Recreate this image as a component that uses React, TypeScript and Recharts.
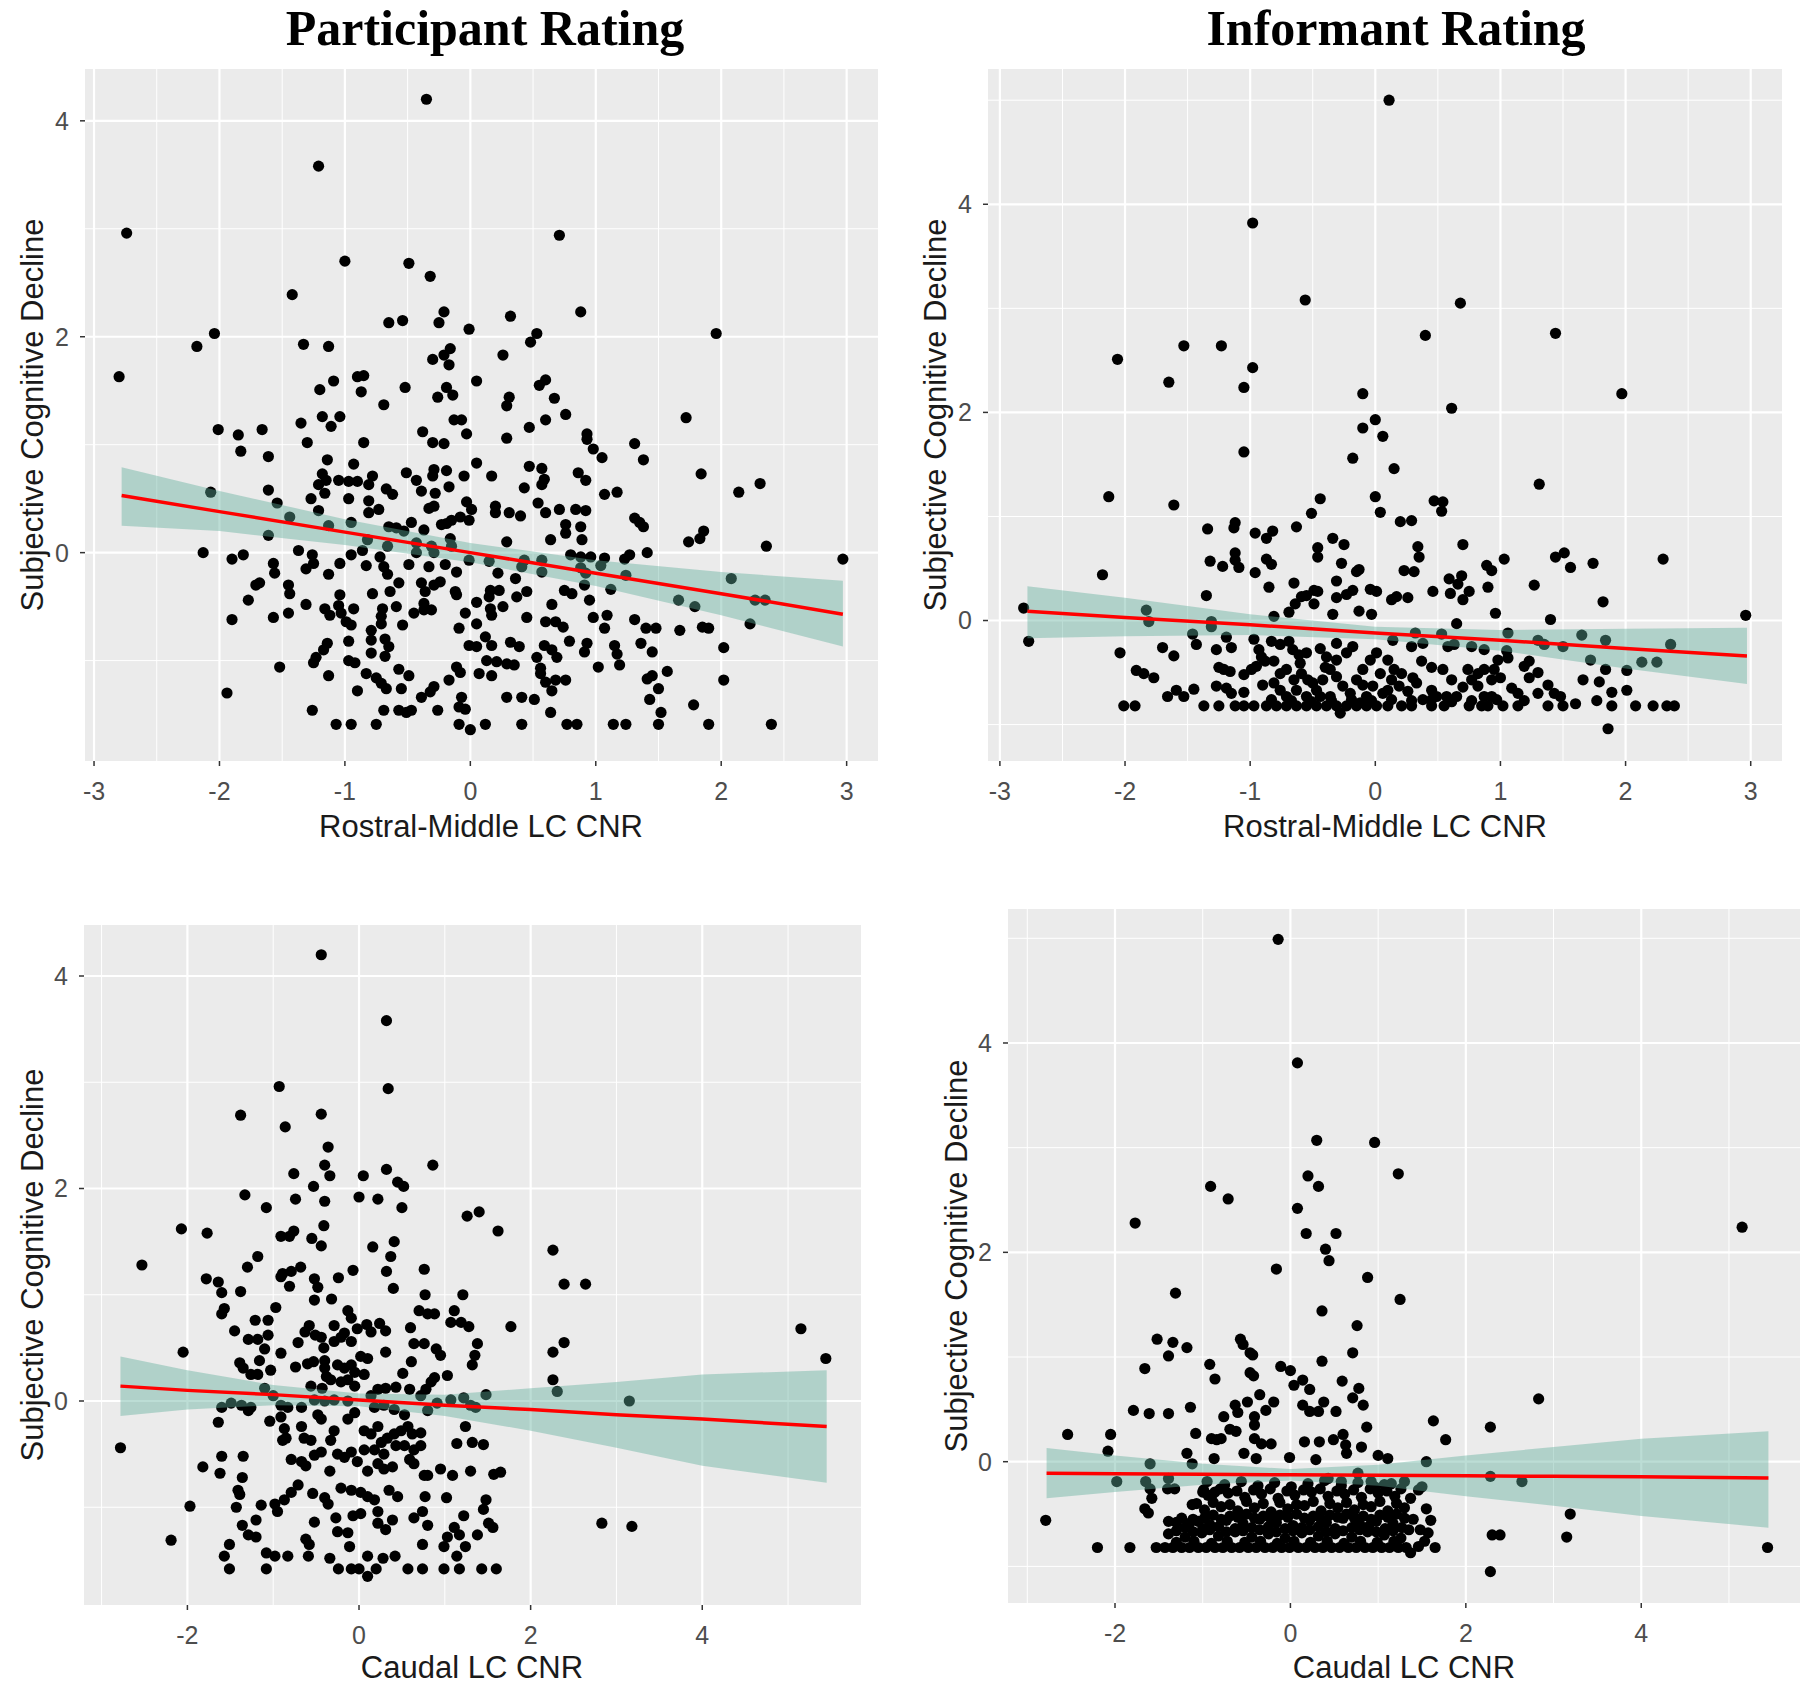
import React from 'react';
import { ComposedChart, Scatter, Area, Line, XAxis, YAxis, CartesianGrid } from 'recharts';

type Pt = [number, number];

const SANS = "'Liberation Sans', Arial, Helvetica, sans-serif";
const SERIF = "'Liberation Serif', 'Times New Roman', serif";

// ---------- Panel 1: Participant rating vs Rostral-Middle LC CNR ----------
const p1Points: Pt[] = [
  [-0.35,4.2],[-1.21,3.58],[-2.74,2.96],[0.71,2.94],[-1.0,2.70],[-0.49,2.68],[-0.32,2.56],
  [-1.42,2.39],[-0.65,2.13],[-0.54,2.15],[-0.21,2.23],[-0.25,2.13],[-0.01,2.07],[-2.04,2.03],[-2.18,1.91],[-1.33,1.93],[-1.13,1.91],[-2.80,1.63],[-0.16,1.89],[-0.21,1.83],[-0.30,1.79],[-0.17,1.74],[0.05,1.59],[-0.90,1.63],[-0.85,1.64],[-1.09,1.59],[-1.20,1.51],[-0.87,1.49],[-0.52,1.53],[-0.19,1.53],[-0.14,1.46],[-0.26,1.44],[-0.69,1.37],[-1.18,1.26],[-1.04,1.26],[-1.11,1.17],[-1.35,1.20],[-2.01,1.14],[-1.85,1.09],[-1.66,1.14],[-1.83,0.94],[-1.61,0.89],[-1.30,1.02],[-0.85,1.02],[-0.38,1.12],[-0.30,1.02],[-0.21,1.01],[-0.13,1.23],[-0.07,1.23],[-0.03,1.10],[-1.14,0.86],[-0.93,0.82],[0.05,0.83],[-1.18,0.73],[-1.15,0.67],[-1.21,0.63],[-1.05,0.67],[-0.97,0.66],[-0.90,0.66],[-0.78,0.71],[-0.81,0.63],[-0.51,0.74],[-0.43,0.67],[-0.29,0.77],[-0.30,0.71],[-0.19,0.76],[-0.05,0.71],[-0.17,0.61],[-0.39,0.57],[-0.28,0.55],[-0.29,0.43],[-0.33,0.41],[-0.67,0.59],[-0.62,0.54],[-1.16,0.55],[-1.27,0.50],[-0.97,0.50],[-0.81,0.48],[-1.61,0.58],[-1.54,0.46],[-2.07,0.56],[-1.21,0.39],[-0.81,0.37],[-0.73,0.40],[-0.03,0.47],[0.01,0.40],[-0.01,0.30],[-0.08,0.33],[-0.15,0.30],[-0.23,0.26],[-0.19,0.27],[-0.47,0.28],[-0.37,0.21],[-0.65,0.24],[-0.59,0.23],[-0.53,0.20],[-1.44,0.33],[-1.13,0.25],[-0.95,0.28],[-1.61,0.16],[-0.82,0.12],[-0.16,0.13],[-0.15,0.06],[-0.43,0.09],[-0.31,0.06],[-0.66,0.06],[-0.86,0.02],[-2.13,0.0],[-1.90,-0.06],[-1.81,-0.02],[-1.37,0.02],[-1.26,-0.02],[-1.25,-0.10],[-1.57,-0.10],[-1.56,-0.19],[-1.31,-0.15],[-1.04,-0.10],[-1.13,-0.20],[-0.95,-0.02],[-0.83,-0.12],[-0.72,-0.04],[-0.69,-0.13],[-0.66,-0.20],[-0.49,-0.11],[-0.43,0.0],[-0.29,0.0],[-0.33,-0.13],[-0.20,-0.11],[-0.11,-0.18],[-0.01,-0.07],[-1.68,-0.28],[-1.71,-0.30],[-1.45,-0.30],[-1.44,-0.38],[-1.77,-0.44],[-1.31,-0.48],[-1.04,-0.39],[-0.78,-0.38],[-0.64,-0.36],[-0.57,-0.28],[-0.39,-0.28],[-0.29,-0.30],[-0.24,-0.27],[-0.36,-0.36],[-0.12,-0.36],[-0.11,-0.39],[0.05,-0.46],[-1.90,-0.62],[-1.57,-0.60],[-1.45,-0.56],[-1.16,-0.52],[-1.12,-0.58],[-1.05,-0.49],[-1.03,-0.56],[-0.93,-0.52],[-0.99,-0.64],[-0.95,-0.67],[-0.70,-0.52],[-0.71,-0.59],[-0.71,-0.66],[-0.59,-0.50],[-0.54,-0.67],[-0.45,-0.56],[-0.37,-0.53],[-0.31,-0.53],[-0.37,-0.47],[-0.04,-0.56],[-0.09,-0.70],[-0.79,-0.72],[-0.79,-0.81],[-0.68,-0.80],[-0.65,-0.87],[-0.68,-0.96],[-0.97,-0.82],[-1.14,-0.84],[-1.17,-0.90],[-1.23,-0.97],[-1.25,-1.02],[-0.97,-1.00],[-0.92,-1.02],[-0.79,-0.93],[-1.52,-1.06],[-1.13,-1.14],[-0.83,-1.12],[-0.75,-1.16],[-0.71,-1.21],[-0.67,-1.26],[-0.57,-1.08],[-0.49,-1.14],[-0.55,-1.26],[-0.90,-1.28],[-0.39,-1.34],[-0.32,-1.29],[-0.29,-1.24],[-0.17,-1.18],[-0.11,-1.06],[-0.08,-1.11],[-0.07,-1.34],[0.05,-0.87],[-0.01,-0.86],[-1.94,-1.30],[-1.26,-1.46],[-0.69,-1.46],[-0.57,-1.46],[-0.51,-1.48],[-0.47,-1.46],[-0.26,-1.46],[-0.09,-1.43],[-0.04,-1.45],[-1.07,-1.59],[-0.95,-1.59],[-0.75,-1.59],[-0.09,-1.59],[0.0,-1.64],[0.05,-0.66],[0.07,-1.12],
  [0.88,2.23],[0.32,2.19],[0.53,2.03],[0.48,1.95],[1.96,2.03],[0.26,1.83],[0.60,1.60],[0.55,1.55],[0.31,1.44],[0.29,1.36],[0.67,1.43],[0.76,1.28],[0.60,1.23],[0.47,1.16],[1.72,1.25],[0.29,1.06],[0.93,1.10],[0.93,1.05],[0.98,0.96],[1.05,0.88],[1.31,1.01],[1.38,0.86],[0.17,0.71],[0.47,0.80],[0.57,0.78],[0.59,0.68],[0.57,0.63],[0.43,0.60],[0.86,0.74],[0.92,0.67],[1.84,0.73],[2.14,0.56],[2.31,0.64],[1.07,0.54],[1.17,0.56],[0.20,0.43],[0.20,0.37],[0.31,0.37],[0.40,0.34],[0.54,0.46],[0.60,0.37],[0.71,0.40],[0.84,0.40],[0.92,0.39],[0.76,0.26],[0.76,0.18],[0.88,0.24],[0.89,0.12],[0.64,0.12],[0.29,0.10],[1.31,0.32],[1.35,0.28],[1.38,0.24],[1.74,0.10],[1.83,0.13],[1.86,0.20],[2.36,0.06],[2.97,-0.06],[1.41,0.0],[1.23,-0.06],[1.27,-0.02],[0.80,-0.02],[0.88,-0.04],[0.96,-0.04],[1.07,-0.05],[0.43,-0.07],[0.57,-0.07],[0.15,-0.08],[0.22,-0.19],[0.36,-0.24],[0.41,-0.13],[0.57,-0.18],[0.88,-0.14],[0.92,-0.19],[1.04,-0.12],[1.24,-0.21],[1.12,-0.34],[2.08,-0.24],[1.66,-0.44],[1.79,-0.50],[2.23,-0.66],[2.27,-0.44],[2.35,-0.44],[0.16,-0.35],[0.15,-0.41],[0.23,-0.35],[0.37,-0.41],[0.45,-0.36],[0.75,-0.35],[0.81,-0.38],[0.91,-0.30],[0.95,-0.44],[0.65,-0.48],[0.16,-0.52],[0.17,-0.58],[0.26,-0.50],[0.45,-0.60],[0.60,-0.64],[0.68,-0.64],[0.74,-0.69],[0.98,-0.60],[1.09,-0.58],[1.07,-0.70],[1.31,-0.62],[1.40,-0.70],[1.48,-0.70],[1.67,-0.72],[1.85,-0.69],[1.90,-0.70],[0.12,-0.78],[0.17,-0.86],[0.32,-0.83],[0.39,-0.87],[0.79,-0.82],[0.93,-0.84],[0.91,-0.92],[1.15,-0.86],[1.17,-0.94],[1.19,-1.04],[1.36,-0.84],[1.45,-0.92],[2.02,-0.88],[0.13,-1.00],[0.21,-1.01],[0.29,-1.03],[0.35,-1.04],[0.53,-0.97],[0.59,-0.86],[0.65,-0.90],[0.69,-0.97],[0.17,-1.14],[0.56,-1.07],[0.56,-1.12],[0.60,-1.20],[0.68,-1.18],[0.76,-1.18],[0.65,-1.28],[1.02,-1.06],[1.41,-1.17],[1.45,-1.14],[1.57,-1.10],[1.50,-1.26],[1.43,-1.36],[2.02,-1.18],[0.29,-1.34],[0.41,-1.34],[0.51,-1.36],[0.64,-1.48],[1.52,-1.48],[1.78,-1.41],[0.12,-1.59],[0.41,-1.59],[0.77,-1.59],[0.85,-1.59],[1.14,-1.59],[1.24,-1.59],[1.50,-1.59],[1.90,-1.59],[2.40,-1.59],
];
const p1FitX = [-2.78, -2, -1, 0, 1, 2, 2.97];
const p1Fit = [0.53, 0.38, 0.19, 0.0, -0.19, -0.38, -0.57];
const p1Lo = [0.25, 0.20, 0.07, -0.09, -0.31, -0.58, -0.87];
const p1Hi = [0.79, 0.57, 0.31, 0.09, -0.07, -0.18, -0.26];

// ---------- Panel 2: Informant rating vs Rostral-Middle LC CNR ----------
const p2Points: Pt[] = [
  [0.11,5.0],[-0.98,3.82],[-0.56,3.08],[0.68,3.05],[0.40,2.74],[1.44,2.76],[-2.06,2.51],[-1.53,2.64],[-1.23,2.64],[-0.98,2.43],[-1.65,2.29],[-1.05,2.24],[-0.10,2.18],[1.97,2.18],[0.61,2.04],[0.0,1.93],[-0.10,1.85],[0.06,1.77],
  [-1.05,1.62],[-0.18,1.56],[-2.13,1.19],[-1.61,1.11],[-0.44,1.17],[0.0,1.19],[0.04,1.04],[-0.51,1.03],[-1.12,0.94],[-1.13,0.89],[-1.34,0.88],[-0.96,0.84],[-0.87,0.79],[-0.82,0.86],[-0.63,0.90],[-0.34,0.79],[-0.25,0.73],[-0.46,0.70],[-0.46,0.61],[-1.12,0.65],[-1.12,0.58],[-1.09,0.51],[-1.32,0.57],[-1.22,0.52],[-0.87,0.59],[-0.83,0.54],[-0.96,0.46],[-0.27,0.55],[-0.15,0.47],[-0.13,0.49],[-2.18,0.44],[-0.31,0.38],[-0.65,0.36],[-0.85,0.32],[-0.55,0.24],[-0.49,0.29],[-0.46,0.28],[-0.59,0.23],[-0.31,0.22],[-0.23,0.25],[-0.18,0.29],[-0.04,0.30],[0.01,0.28],[-1.35,0.24],[-0.49,0.16],[-0.64,0.16],[-0.69,0.08],[-0.13,0.09],[-0.03,0.06],[-0.34,0.06],[-2.81,0.12],[-2.77,-0.20],[-1.83,0.10],[-1.81,-0.01],[-0.81,0.04],[-1.31,-0.01],[-1.31,-0.06],[-2.04,-0.31],[-1.70,-0.26],[-1.61,-0.34],[-1.46,-0.13],[-1.43,-0.23],[-1.27,-0.28],[-1.19,-0.16],[-1.15,-0.26],[-0.97,-0.18],[-0.93,-0.28],[-0.83,-0.20],[-0.76,-0.23],[-0.69,-0.20],[-0.66,-0.28],[-0.61,-0.33],[-1.91,-0.48],[-1.85,-0.51],[-1.77,-0.55],[-2.01,-0.82],[-1.92,-0.82],[-1.66,-0.73],[-1.59,-0.67],[-1.53,-0.73],[-1.45,-0.66],[-1.37,-0.82],[-1.25,-0.82],[-1.27,-0.63],[-1.19,-0.65],[-1.15,-0.70],[-1.25,-0.45],[-1.21,-0.47],[-1.16,-0.49],[-1.05,-0.69],[-1.12,-0.82],[-1.05,-0.82],[-0.97,-0.82],[-1.05,-0.52],[-0.99,-0.47],[-0.95,-0.44],[-0.91,-0.35],[-0.88,-0.39],
  [-0.81,-0.39],[-0.76,-0.51],[-0.71,-0.47],[-0.65,-0.57],[-0.59,-0.51],[-0.54,-0.57],[-0.81,-0.60],[-0.76,-0.67],[-0.71,-0.73],[-0.63,-0.67],[-0.55,-0.73],[-0.47,-0.67],[-0.42,-0.57],[-0.36,-0.47],[-0.31,-0.38],[-0.23,-0.31],[-0.18,-0.25],[-0.31,-0.54],[-0.26,-0.63],[-0.20,-0.70],[-0.15,-0.57],[-0.10,-0.47],[-0.04,-0.38],[0.01,-0.31],[0.04,-0.51],[-0.02,-0.63],[-0.07,-0.73],[-0.12,-0.79],
  [-0.87,-0.82],[-0.79,-0.82],[-0.71,-0.82],[-0.63,-0.82],[-0.55,-0.82],[-0.47,-0.82],[-0.39,-0.82],[-0.31,-0.82],[-0.23,-0.82],[-0.15,-0.82],[-0.07,-0.82],[0.01,-0.82],
  [-0.28,-0.89],[-0.44,-0.73],[-0.36,-0.73],[0.06,-0.70],[-0.31,-0.22],[-0.39,-0.35],[-0.44,-0.27],[-0.55,-0.31],[-0.60,-0.41],
  [0.15,1.46],[1.31,1.31],[0.47,1.15],[0.54,1.14],[0.53,1.05],[0.20,0.95],[0.29,0.96],[0.34,0.71],[0.35,0.61],[0.70,0.73],[0.23,0.48],[0.31,0.47],[0.89,0.53],[0.93,0.48],[1.03,0.59],[1.44,0.61],[1.51,0.65],[1.56,0.51],[1.74,0.55],[2.30,0.59],[0.59,0.40],[0.69,0.43],[0.66,0.35],[0.46,0.28],[0.60,0.26],[0.75,0.28],[0.70,0.20],[0.90,0.32],[1.27,0.34],[0.13,0.20],[0.17,0.23],[0.26,0.22],[1.82,0.18],[0.96,0.07],[0.65,-0.03],[1.40,0.01],[2.96,0.05],[0.32,-0.12],[0.53,-0.13],[1.06,-0.12],[1.65,-0.14],[1.84,-0.19],[2.36,-0.23],[1.30,-0.19],[1.35,-0.23],[1.50,-0.25],[1.72,-0.38],[2.13,-0.40],[2.25,-0.40],[1.84,-0.47],[2.01,-0.48],[1.66,-0.57],[1.79,-0.59],[1.89,-0.69],[2.01,-0.67],[1.77,-0.77],[1.89,-0.82],[2.08,-0.82],[2.22,-0.82],[2.33,-0.82],[2.39,-0.82],[1.86,-1.04],[1.38,-0.82],[1.50,-0.82],[1.14,-0.82],[1.02,-0.82],[0.14,-0.19],[0.29,-0.25],[0.38,-0.22],[0.58,-0.25],[0.63,-0.23],[0.77,-0.25],[0.87,-0.28],[1.05,-0.29],[1.06,-0.36],
  [0.10,-0.38],[0.15,-0.47],[0.13,-0.57],[0.21,-0.51],[0.10,-0.67],[0.19,-0.63],[0.26,-0.68],[0.33,-0.60],[0.37,-0.39],[0.45,-0.67],[0.38,-0.76],[0.49,-0.73],[0.54,-0.47],[0.61,-0.57],[0.57,-0.73],[0.65,-0.73],[0.74,-0.47],[0.77,-0.57],[0.82,-0.51],[0.87,-0.47],[0.95,-0.47],[0.98,-0.38],[0.93,-0.57],[0.82,-0.63],[0.87,-0.73],[0.93,-0.73],[1.09,-0.65],[1.14,-0.70],[1.19,-0.44],[1.23,-0.39],[1.23,-0.55],[1.38,-0.62],[1.43,-0.70],[1.48,-0.73],
  [0.10,-0.82],[0.21,-0.82],[0.29,-0.82],[0.45,-0.82],[0.55,-0.82],[0.75,-0.82],[0.85,-0.82],[0.90,-0.82],
  [-0.83,-0.76],[-0.67,-0.77],[-0.51,-0.78],[-0.35,-0.77],[-0.19,-0.76],[-0.03,-0.77],[0.13,-0.76],[0.29,-0.77],[0.45,-0.76],[0.61,-0.78],[0.77,-0.77],[0.97,-0.76],[1.19,-0.77],[-0.90,-0.62],[-0.50,-0.60],[-0.10,-0.62],[0.30,-0.55],[0.70,-0.64],[1.00,-0.55],[1.30,-0.50],[-0.40,-0.45],[0.45,-0.45],[1.30,-0.70],[1.60,-0.80],
];
const p2FitX = [-2.78, -2, -1, 0, 1, 2, 2.97];
const p2Fit = [0.09, 0.03, -0.04, -0.12, -0.19, -0.27, -0.34];
const p2Lo = [-0.17, -0.15, -0.14, -0.18, -0.29, -0.46, -0.61];
const p2Hi = [0.33, 0.22, 0.06, -0.06, -0.09, -0.08, -0.07];

// ---------- Panel 3: Participant rating vs Caudal LC CNR ----------
const p3Points: Pt[] = [
  [-0.44,4.2],[0.32,3.58],[0.34,2.94],[-0.93,2.96],[-1.38,2.69],[-0.44,2.70],[-0.86,2.58],[-0.36,2.39],[-0.40,2.22],[-0.34,2.12],[-0.76,2.14],[0.05,2.12],[0.32,2.18],[0.45,2.06],[0.52,2.02],[0.86,2.22],[-0.53,2.02],[-1.33,1.94],[-0.74,1.90],[-0.40,1.88],[0.0,1.92],[0.22,1.90],[0.50,1.82],[-1.08,1.82],[-2.07,1.62],[-1.77,1.58],[1.26,1.74],[-0.91,1.55],[-0.76,1.60],[-0.81,1.55],[-0.55,1.53],[-0.44,1.46],[-0.41,1.65],[0.16,1.45],[0.41,1.50],[0.37,1.36],[-2.53,1.28],[-1.30,1.26],[-1.18,1.36],[-0.89,1.20],[-0.79,1.22],[-0.68,1.26],[-0.91,1.17],[-0.81,1.08],[-0.52,1.15],[-0.48,1.07],[-0.24,1.16],[-0.07,1.23],[0.32,1.22],[0.40,1.06],[0.76,1.24],[0.77,1.0],[-1.78,1.15],[-1.64,1.12],[-1.60,1.02],[-1.38,1.03],[-0.52,0.95],[-0.32,0.96],[1.21,1.0],[-0.97,0.88],[-1.57,0.87],[-1.60,0.82],[-0.13,0.85],[-0.09,0.78],[0.70,0.85],[0.80,0.82],[0.88,0.82],[1.11,0.85],[1.07,0.74],[1.19,0.74],[1.28,0.70],[-1.21,0.76],[-1.06,0.76],[-1.45,0.66],[-0.58,0.71],[-0.63,0.65],[-0.51,0.62],[-0.44,0.60],[-0.29,0.71],[-0.17,0.64],[-0.02,0.68],[0.09,0.72],[0.14,0.65],[0.24,0.73],[0.31,0.66],[0.60,0.69],[-1.29,0.58],[-1.18,0.58],[-1.06,0.62],[-0.71,0.55],[-0.41,0.50],[-0.29,0.56],[-0.21,0.60],[-0.09,0.56],[-1.10,0.49],[-0.91,0.45],[-2.05,0.46],[0.64,0.54],[0.76,0.54],[0.90,0.49],[0.95,0.43],[0.31,0.46],[-1.39,0.36],[-1.35,0.31],[-1.26,0.25],[-1.18,0.25],[-1.16,0.38],[-1.03,0.29],[-0.74,0.32],[-0.60,0.35],[-0.53,0.37],[-0.40,0.38],[-0.40,0.31],[-0.38,0.23],[-0.25,0.34],[-0.17,0.31],[-0.09,0.34],[-0.05,0.27],[0.06,0.25],[0.02,0.42],[0.10,0.40],[0.61,0.37],[0.51,0.26],[0.88,0.22],[1.03,0.24],[1.32,0.34],[-0.33,0.20],[-0.21,0.18],[-0.13,0.20],[-0.05,0.14],[-0.56,0.14],[-0.43,0.12],[0.22,0.11],[0.31,0.12],[0.43,0.13],[0.59,0.11],[0.78,0.11],[0.84,0.18],
  [-1.60,-0.06],[-1.49,-0.02],[-1.37,-0.04],[-1.29,-0.09],[-1.26,-0.06],[-1.10,0.12],[-1.00,0.05],[-0.91,-0.04],[-0.83,-0.06],[-0.67,-0.06],[-0.52,0.01],[-0.40,0.0],[-0.29,0.01],[-0.13,0.0],[0.14,0.05],[0.18,-0.06],[0.29,-0.04],[0.41,-0.08],[0.53,-0.13],[0.72,0.05],[0.80,-0.09],[0.91,-0.02],[1.07,0.01],[1.22,0.03],[1.30,-0.04],
  [-1.64,-0.20],[-2.78,-0.44],[-1.04,-0.19],[-0.91,-0.15],[-0.87,-0.26],[-0.89,-0.37],[-0.85,-0.35],[-0.67,-0.24],[-0.64,-0.35],[-0.56,-0.37],[-0.48,-0.13],[-0.44,-0.17],[-0.29,-0.28],[-0.33,-0.37],[-0.13,-0.17],[-0.05,-0.11],[0.06,-0.28],[0.14,-0.31],[0.22,-0.24],[0.26,-0.39],[0.33,-0.35],[0.41,-0.31],[0.49,-0.28],[0.57,-0.24],[0.62,-0.31],[0.18,-0.46],[0.29,-0.50],[0.43,-0.42],[0.53,-0.42],[0.64,-0.46],[0.72,-0.42],[0.72,-0.30],[1.14,-0.40],[1.24,-0.24],[1.32,-0.39],[-0.79,-0.55],[-0.67,-0.57],[-0.62,-0.61],[-0.52,-0.51],[-0.44,-0.48],[-0.34,-0.66],[-0.25,-0.50],[-0.17,-0.53],[-0.09,-0.48],[-0.02,-0.57],[0.06,-0.46],[0.10,-0.66],[0.22,-0.59],[0.29,-0.64],[0.39,-0.62],[0.59,-0.55],[0.64,-0.59],[0.76,-0.70],[0.95,-0.64],[1.09,-0.70],[1.30,-0.66],[-1.82,-0.62],[-1.60,-0.52],[-1.35,-0.52],[-1.62,-0.68],[-1.36,-0.72],[-1.41,-0.84],[-1.39,-0.88],[-1.97,-0.99],[-1.43,-1.00],[-1.14,-0.98],[-0.98,-0.97],[-0.95,-1.04],[-0.87,-0.93],[-0.79,-0.86],[-0.71,-0.79],[-0.54,-0.87],[-0.40,-0.91],[-0.36,-0.97],[-0.21,-0.82],[-0.09,-0.84],[0.02,-0.86],[0.10,-0.90],[0.18,-0.93],[0.22,-1.04],[0.35,-0.84],[0.45,-0.90],[0.80,-0.70],[0.77,-0.90],[1.02,-0.91],[-1.20,-1.12],[-1.36,-1.17],[-1.29,-1.26],[-1.20,-1.28],[-2.19,-1.31],[-1.51,-1.35],[-1.57,-1.46],[-1.51,-1.58],[-1.08,-1.43],[-1.08,-1.58],[-0.98,-1.46],[-0.83,-1.46],[-0.62,-1.30],[-0.58,-1.35],[-0.52,-1.14],[-0.27,-1.10],[-0.25,-1.23],[-0.13,-1.24],[-0.11,-1.37],[-0.07,-1.08],[0.02,-1.06],[-0.59,-1.46],[-0.34,-1.48],[-0.24,-1.58],[-0.09,-1.58],[0.0,-1.58],[0.10,-1.65],[0.10,-1.46],[0.20,-1.58],[0.28,-1.48],[0.42,-1.46],[0.57,-1.58],[0.74,-1.58],[0.22,-1.15],[0.31,-1.21],[0.39,-1.12],[0.64,-1.10],[0.74,-1.04],[0.80,-1.17],[0.74,-1.35],[0.99,-1.37],[1.03,-1.28],[1.11,-1.19],[1.17,-1.26],[1.22,-1.08],[1.24,-1.37],[0.99,-1.58],[1.17,-1.58],[1.14,-1.46],
  [1.40,1.78],[1.62,1.60],[2.26,1.42],[2.39,1.10],[2.64,1.10],[1.77,0.70],[1.38,0.54],[1.35,0.43],[2.26,0.46],[2.39,0.55],[2.26,0.20],[2.31,0.09],[3.15,0.0],[5.15,0.68],[5.44,0.40],[1.48,0.06],[1.36,-0.06],[1.45,-0.41],[1.57,-0.69],[1.65,-0.67],[1.48,-0.93],[1.45,-1.02],[1.51,-1.15],[1.56,-1.19],[1.38,-1.26],[1.43,-1.58],[1.60,-1.58],[2.83,-1.15],[3.18,-1.18],
];
const p3FitX = [-2.78, -2, -1, 0, 1, 2, 3, 4, 5.45];
const p3Fit = [0.14, 0.10, 0.06, 0.01, -0.04, -0.08, -0.13, -0.17, -0.24];
const p3Lo = [-0.14, -0.08, -0.04, -0.05, -0.14, -0.28, -0.44, -0.61, -0.77];
const p3Hi = [0.42, 0.29, 0.15, 0.07, 0.06, 0.12, 0.18, 0.25, 0.29];

// ---------- Panel 4: Informant rating vs Caudal LC CNR ----------
const p4Points: Pt[] = [
  [-0.14,4.99],[0.08,3.81],[0.30,3.07],[0.96,3.05],[1.23,2.75],[0.20,2.73],[0.32,2.63],[-0.91,2.63],[-0.71,2.51],[0.08,2.42],[-1.77,2.28],[0.18,2.18],[0.52,2.18],[5.15,2.24],[0.40,2.03],
  [2.28,0.33],[2.83,0.60],[1.63,0.39],[1.77,0.21],[1.55,0.0],[2.28,-0.14],[2.64,-0.19],[3.19,-0.50],[3.15,-0.72],[2.30,-0.70],[2.39,-0.70],[2.28,-1.05],[5.44,-0.82],
  [1.37,-0.87],[1.46,-0.81],[1.53,-0.76],[1.60,-0.56],[1.65,-0.82],[1.55,-0.45],[1.46,-0.27],[1.37,-0.35],[1.48,-0.65],[1.57,-0.68],[1.40,-0.55],[1.50,-0.24],
  [0.44,1.92],[-0.16,1.84],[0.88,1.76],[1.25,1.55],[-1.31,1.61],[0.36,1.44],[0.76,1.30],[-1.52,1.17],[-1.34,1.14],[-1.18,1.09],[-1.39,1.01],[-0.57,1.17],[-0.54,1.12],[-0.46,1.04],[-0.43,1.02],[0.71,1.04],[0.36,0.96],[-0.92,0.93],[-1.66,0.89],[-0.11,0.91],[0.0,0.87],[-0.86,0.79],[-0.46,0.85],[-0.42,0.82],[0.14,0.78],[0.22,0.69],[0.04,0.73],[0.59,0.77],[0.78,0.70],[0.71,0.61],[0.83,0.54],[0.87,0.33],[-0.35,0.64],[-0.19,0.57],[-0.28,0.49],[-0.49,0.57],[-0.63,0.54],[-0.60,0.47],[-0.76,0.43],[-0.69,0.31],[-0.79,0.22],[-0.84,0.21],[-0.90,0.22],[-0.62,0.29],[-0.41,0.43],[-0.41,0.35],[-0.41,0.22],[-0.33,0.17],[-0.22,0.17],[-1.14,0.52],[-1.79,0.49],[-1.61,0.46],[-1.39,0.46],[-1.08,0.27],[0.14,0.54],[0.22,0.48],[0.32,0.48],[0.38,0.57],[0.52,0.48],[0.16,0.19],[0.33,0.19],[0.49,0.21],[0.60,0.26],[0.63,0.16],[0.64,0.08],[0.81,0.14],[1.00,0.06],[1.11,0.03],[-2.54,0.26],[-2.05,0.26],[-2.08,0.10],[-1.18,0.08],[-0.87,0.03],[-0.53,0.08],[-0.39,0.03],[-0.01,0.04],[0.29,0.02],[-2.79,-0.56],[-2.20,-0.82],[-1.83,-0.82],[-1.60,-0.02],[-1.12,-0.02],[-1.98,-0.19],[-1.65,-0.19],[-1.60,-0.26],[-1.58,-0.35],[-1.66,-0.45],[-1.62,-0.49],[-1.39,-0.16],[-1.40,-0.26],[-1.32,-0.26],[-1.12,-0.41],[-0.95,-0.19],[-1.00,-0.29],[-0.94,-0.32],[-0.86,-0.29],[-1.39,-0.57],[-1.24,-0.54],[-1.15,-0.59],[-1.05,-0.57],
  [-1.53,-0.82],[-1.43,-0.82],[-1.34,-0.82],[-1.24,-0.82],[-1.15,-0.82],[-1.05,-0.82],[-0.96,-0.82],[-0.86,-0.82],[-0.77,-0.82],[-0.67,-0.82],[-0.58,-0.82],[-0.48,-0.82],[-0.39,-0.82],[-0.29,-0.82],[-0.20,-0.82],[-0.10,-0.82],[-0.01,-0.82],[0.09,-0.82],[0.18,-0.82],[0.28,-0.82],[0.37,-0.82],[0.47,-0.82],[0.56,-0.82],[0.66,-0.82],[0.75,-0.82],[0.85,-0.82],[0.94,-0.82],[1.04,-0.82],[1.13,-0.82],[1.23,-0.82],[1.32,-0.82],
  [-1.30,-0.77],[-1.10,-0.76],[-0.90,-0.78],[-0.72,-0.76],[-0.52,-0.77],[-0.34,-0.76],[-0.15,-0.78],[0.04,-0.76],[0.23,-0.77],[0.42,-0.76],[0.61,-0.78],[0.80,-0.76],[0.99,-0.77],[1.18,-0.76],
  [-1.39,-0.69],[-1.20,-0.72],[-1.01,-0.68],[-0.82,-0.71],[-0.63,-0.67],[-0.44,-0.72],[-0.25,-0.69],[-0.06,-0.73],[0.13,-0.68],[0.32,-0.71],[0.51,-0.69],[0.70,-0.72],[0.88,-0.67],[1.07,-0.70],[1.26,-0.73],
  [-1.30,-0.66],[-1.11,-0.67],[-0.92,-0.65],[-0.73,-0.67],[-0.54,-0.66],[-0.35,-0.65],[-0.16,-0.67],[0.03,-0.66],[0.22,-0.65],[0.41,-0.67],[0.60,-0.66],[0.79,-0.65],[0.98,-0.67],[1.17,-0.66],[1.35,-0.65],
  [-1.20,-0.63],[-1.00,-0.64],[-0.82,-0.62],[-0.63,-0.64],[-0.44,-0.63],[-0.25,-0.62],[-0.06,-0.64],[0.13,-0.63],[0.32,-0.62],[0.51,-0.64],[0.70,-0.63],[0.89,-0.62],[1.08,-0.64],[1.27,-0.63],
  [-1.30,-0.58],[-1.11,-0.55],[-0.92,-0.60],[-0.73,-0.56],[-0.54,-0.59],[-0.35,-0.55],[-0.16,-0.58],[0.03,-0.61],[0.22,-0.56],[0.41,-0.58],[0.60,-0.54],[0.79,-0.60],[0.98,-0.57],[1.17,-0.59],
  [-0.98,-0.54],[-0.79,-0.55],[-0.60,-0.53],[-0.41,-0.54],[-0.22,-0.55],[-0.03,-0.53],[0.16,-0.54],[0.35,-0.55],[0.54,-0.53],[0.73,-0.54],[0.92,-0.55],[1.11,-0.53],[1.30,-0.54],
  [-0.88,-0.51],[-0.69,-0.52],[-0.50,-0.50],[-0.31,-0.52],[-0.12,-0.51],[0.07,-0.50],[0.26,-0.52],[0.45,-0.51],[0.64,-0.50],[0.83,-0.52],[1.02,-0.51],[1.21,-0.50],
  [-0.98,-0.46],[-0.79,-0.43],[-0.60,-0.47],[-0.41,-0.44],[-0.22,-0.48],[-0.03,-0.45],[0.16,-0.42],[0.35,-0.47],[0.54,-0.44],[0.73,-0.46],[0.92,-0.43],[1.11,-0.47],[1.30,-0.44],
  [-1.07,-0.40],[-0.88,-0.39],[-0.69,-0.41],[-0.50,-0.38],[-0.31,-0.40],[-0.12,-0.39],[0.07,-0.41],[0.26,-0.38],[0.45,-0.40],[0.64,-0.39],[0.83,-0.41],[1.02,-0.38],[1.21,-0.40],
  [-0.90,-0.33],[-0.71,-0.30],[-0.52,-0.34],[-0.33,-0.31],[-0.14,-0.35],[0.05,-0.32],[0.24,-0.29],[0.43,-0.33],[0.62,-0.31],[0.81,-0.34],[1.00,-0.30],[1.19,-0.33],
  [-0.99,-0.27],[-0.80,-0.26],[-0.61,-0.28],[-0.42,-0.27],[-0.23,-0.26],[-0.04,-0.28],[0.15,-0.27],[0.34,-0.26],[0.53,-0.28],[0.72,-0.27],[0.91,-0.26],[1.10,-0.28],
  [-0.75,-0.22],[-0.56,-0.19],[-0.37,-0.23],[-0.18,-0.20],[0.01,-0.24],[0.20,-0.21],[0.39,-0.18],[0.58,-0.23],[0.77,-0.20],[0.96,-0.24],[1.15,-0.21],[1.30,-0.19],
  [0.43,-0.16],[0.58,-0.19],[0.77,-0.11],[0.92,-0.19],[1.07,-0.22],[1.26,-0.26],
];
const p4FitX = [-2.78, -2, -1, 0, 1, 2, 3, 4, 5.45];
const p4Fit = [-0.11, -0.115, -0.12, -0.125, -0.13, -0.135, -0.14, -0.145, -0.155];
const p4Lo = [-0.35, -0.29, -0.22, -0.18, -0.23, -0.33, -0.42, -0.52, -0.63];
const p4Hi = [0.13, 0.06, -0.02, -0.07, -0.03, 0.06, 0.14, 0.22, 0.29];

// ---------- axis ticks / grid breaks ----------
const rmXTicks = [-3, -2, -1, 0, 1, 2, 3];
const rmXMinor = [-2.5, -1.5, -0.5, 0.5, 1.5, 2.5];
const caXTicks = [-2, 0, 2, 4];
const caXMinor = [-3, -1, 1, 3, 5];
const yTicks = [0, 2, 4];
const yMinorP = [-1, 1, 3];
const yMinorI = [-1, 1, 3, 5];

const Dot = (props: any) => {
  if (props.cx == null || props.cy == null) return null;
  return <circle cx={props.cx} cy={props.cy} r={5.6} fill="#000000" />;
};

interface PanelProps {
  left: number; top: number; width: number; height: number;
  margin: { top: number; right: number; bottom: number; left: number };
  yAxisWidth: number;
  xDomain: [number, number]; yDomain: [number, number];
  xTicks: number[]; xMinor: number[]; yMinor: number[];
  points: Pt[]; fitX: number[]; fit: number[]; lo: number[]; hi: number[];
}

const X_AXIS_H = 50;

function Panel(p: PanelProps) {
  const pts = p.points.map(([x, y]) => ({ x, y }));
  const rows = p.fitX.map((x, i) => ({ x, fit: p.fit[i], band: [p.lo[i], p.hi[i]] }));
  const tickStyle = { fill: '#4D4D4D', fontSize: 25, fontFamily: SANS };
  const overlayMargin = {
    top: p.margin.top,
    right: p.margin.right,
    bottom: p.margin.bottom + X_AXIS_H,
    left: p.margin.left + p.yAxisWidth,
  };
  return (
    <div style={{ position: 'absolute', left: p.left, top: p.top, width: p.width, height: p.height }}>
      {/* base layer: panel background, grid, axes and points */}
      <div style={{ position: 'absolute', left: 0, top: 0 }}>
        <ComposedChart width={p.width} height={p.height} margin={p.margin}>
          <CartesianGrid fill="#EBEBEB" stroke="#FFFFFF" strokeWidth={1} horizontalValues={p.yMinor} verticalValues={p.xMinor} />
          <CartesianGrid stroke="#FFFFFF" strokeWidth={2.2} horizontalValues={yTicks} verticalValues={p.xTicks} />
          <XAxis type="number" dataKey="x" domain={p.xDomain} ticks={p.xTicks} interval={0} allowDataOverflow
            axisLine={false} tickLine={{ stroke: '#333333', strokeWidth: 1.5 }} tickSize={5} tickMargin={16}
            height={X_AXIS_H} tick={tickStyle} />
          <YAxis type="number" domain={p.yDomain} ticks={yTicks} interval={0} allowDataOverflow
            axisLine={false} tickLine={{ stroke: '#333333', strokeWidth: 1.5 }} tickSize={5} tickMargin={11}
            width={p.yAxisWidth} tick={tickStyle} />
          <Scatter data={pts} dataKey="y" shape={Dot} isAnimationActive={false} />
        </ComposedChart>
      </div>
      {/* top layer: confidence ribbon (drawn over points) and fitted line */}
      <div style={{ position: 'absolute', left: 0, top: 0 }}>
        <ComposedChart width={p.width} height={p.height} data={rows} margin={overlayMargin}>
          <XAxis type="number" dataKey="x" domain={p.xDomain} allowDataOverflow hide />
          <YAxis type="number" domain={p.yDomain} allowDataOverflow hide />
          <Area dataKey="band" type="linear" stroke="none" fill="#5FAE9C" fillOpacity={0.42} isAnimationActive={false} activeDot={false} />
          <Line dataKey="fit" type="linear" stroke="#FF0000" strokeWidth={3.5} dot={false} activeDot={false} isAnimationActive={false} />
        </ComposedChart>
      </div>
    </div>
  );
}

export default function App() {
  return (
    <div style={{ position: 'absolute', left: 0, top: 0, width: 1806, height: 1689, background: '#FFFFFF', overflow: 'hidden' }}>
      <Panel left={0} top={0} width={903} height={845} margin={{ top: 69, right: 25, bottom: 34, left: 0 }} yAxisWidth={85}
        xDomain={[-3.072, 3.25]} yDomain={[-1.93, 4.48]} xTicks={rmXTicks} xMinor={rmXMinor} yMinor={yMinorP}
        points={p1Points} fitX={p1FitX} fit={p1Fit} lo={p1Lo} hi={p1Hi} />
      <Panel left={903} top={0} width={903} height={845} margin={{ top: 69, right: 24, bottom: 34, left: 0 }} yAxisWidth={85}
        xDomain={[-3.095, 3.25]} yDomain={[-1.35, 5.30]} xTicks={rmXTicks} xMinor={rmXMinor} yMinor={yMinorI}
        points={p2Points} fitX={p2FitX} fit={p2Fit} lo={p2Lo} hi={p2Hi} />
      <Panel left={0} top={845} width={903} height={844} margin={{ top: 80, right: 42, bottom: 34, left: 0 }} yAxisWidth={84}
        xDomain={[-3.205, 5.85]} yDomain={[-1.92, 4.48]} xTicks={caXTicks} xMinor={caXMinor} yMinor={yMinorP}
        points={p3Points} fitX={p3FitX} fit={p3Fit} lo={p3Lo} hi={p3Hi} />
      <Panel left={903} top={845} width={903} height={844} margin={{ top: 64, right: 6, bottom: 36, left: 0 }} yAxisWidth={105}
        xDomain={[-3.22, 5.81]} yDomain={[-1.35, 5.28]} xTicks={caXTicks} xMinor={caXMinor} yMinor={yMinorI}
        points={p4Points} fitX={p4FitX} fit={p4Fit} lo={p4Lo} hi={p4Hi} />
      <svg width={1806} height={1689} style={{ position: 'absolute', left: 0, top: 0, pointerEvents: 'none' }}>
        <text x={485} y={45} textAnchor="middle" fontFamily={SERIF} fontWeight={700} fontSize={50} fill="#000">Participant Rating</text>
        <text x={1396} y={45} textAnchor="middle" fontFamily={SERIF} fontWeight={700} fontSize={50} fill="#000">Informant Rating</text>
        <text x={481} y={837} textAnchor="middle" fontFamily={SANS} fontSize={31} fill="#1A1A1A">Rostral-Middle LC CNR</text>
        <text x={1385} y={837} textAnchor="middle" fontFamily={SANS} fontSize={31} fill="#1A1A1A">Rostral-Middle LC CNR</text>
        <text x={472} y={1678} textAnchor="middle" fontFamily={SANS} fontSize={31} fill="#1A1A1A">Caudal LC CNR</text>
        <text x={1404} y={1678} textAnchor="middle" fontFamily={SANS} fontSize={31} fill="#1A1A1A">Caudal LC CNR</text>
        <text x={43} y={415} textAnchor="middle" fontFamily={SANS} fontSize={31} fill="#1A1A1A" transform="rotate(-90 43 415)">Subjective Cognitive Decline</text>
        <text x={946} y={415} textAnchor="middle" fontFamily={SANS} fontSize={31} fill="#1A1A1A" transform="rotate(-90 946 415)">Subjective Cognitive Decline</text>
        <text x={43} y={1265} textAnchor="middle" fontFamily={SANS} fontSize={31} fill="#1A1A1A" transform="rotate(-90 43 1265)">Subjective Cognitive Decline</text>
        <text x={967} y={1256} textAnchor="middle" fontFamily={SANS} fontSize={31} fill="#1A1A1A" transform="rotate(-90 967 1256)">Subjective Cognitive Decline</text>
      </svg>
    </div>
  );
}
